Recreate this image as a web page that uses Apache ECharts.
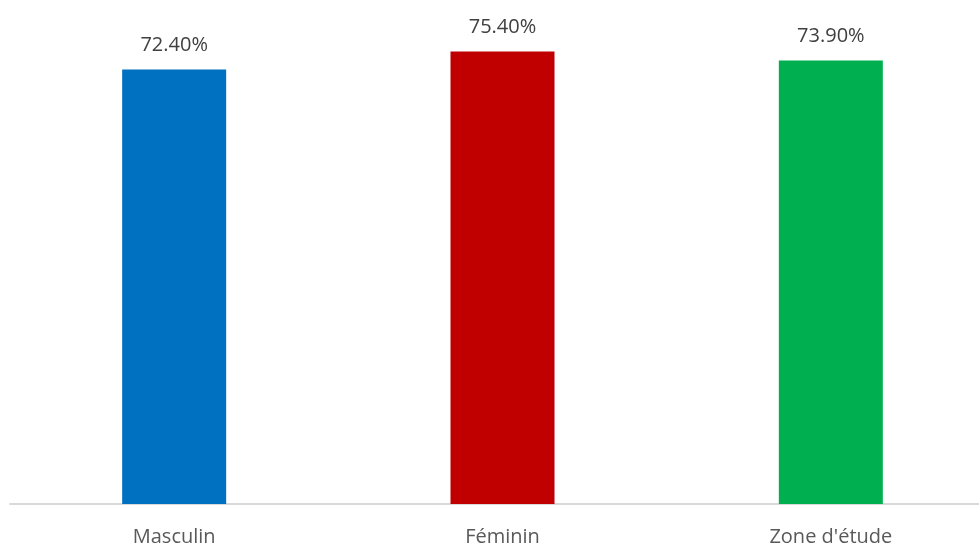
<!DOCTYPE html>
<html><head><meta charset="utf-8">
<script src="https://cdn.jsdelivr.net/npm/echarts@6/dist/echarts.min.js"></script>
<style>html,body{margin:0;padding:0;background:#fff;overflow:hidden;width:979px;height:547px}#c{width:995px;height:547px}</style>
</head><body><div id="c"></div>
<script>
const categories = ["Masculin", "Féminin", "Zone d'étude"];
const values = [72.4, 75.4, 73.9];
const colors = ["#0070C0", "#C00000", "#00B050"];

const chart = echarts.init(document.getElementById('c'));
chart.setOption({
  animation: false,
  grid: { left: 10, right: 0, top: 24, bottom: 38, containLabel: false },
  xAxis: {
    type: 'category', data: categories,
    axisLine: { lineStyle: { color: '#D9D9D9', width: 2 } },
    axisTick: { show: false },
    axisLabel: { color: '#595959', fontFamily: 'Open Sans', fontSize: 20, margin: 23 }
  },
  yAxis: { type: 'value', min: 0, max: 80, show: false, splitLine: { show: false } },
  series: [{
    type: 'bar', barWidth: 104,
    data: values.map((v, i) => ({ value: v, itemStyle: { color: colors[i] } })),
    label: {
      show: true, position: 'top', distance: 14,
      formatter: p => p.value.toFixed(2) + '%',
      color: '#404040', fontFamily: 'Open Sans', fontSize: 20
    }
  }]
});
</script></body></html>
